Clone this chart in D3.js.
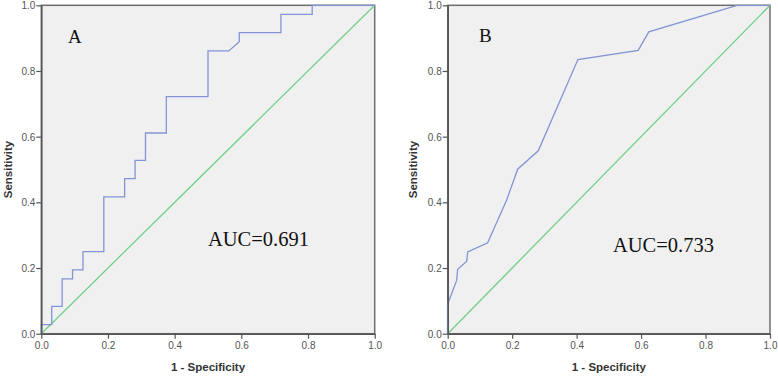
<!DOCTYPE html>
<html><head><meta charset="utf-8">
<script src="https://cdn.jsdelivr.net/npm/d3@7"></script>
<style>body{margin:0;background:#fff}svg{display:block}</style>
</head><body>
<svg id="c" width="778" height="377"></svg>
<script>
// ROC panel A (stepped) : [1 - specificity, sensitivity]
const rocA_fpr = [0, 0, 0.03125, 0.03125, 0.0625, 0.0625, 0.09375, 0.09375, 0.125, 0.125, 0.1875, 0.1875, 0.25, 0.25, 0.28125, 0.28125, 0.3125, 0.3125, 0.375, 0.375, 0.5, 0.5, 0.5625, 0.59375, 0.59375, 0.71875, 0.71875, 0.8125, 0.8125, 1.0];
const rocA_tpr = [0, 0.0278, 0.0278, 0.0833, 0.0833, 0.1667, 0.1667, 0.1944, 0.1944, 0.25, 0.25, 0.4167, 0.4167, 0.4722, 0.4722, 0.5278, 0.5278, 0.6111, 0.6111, 0.7222, 0.7222, 0.8611, 0.8611, 0.8889, 0.9167, 0.9167, 0.9722, 0.9722, 1.0, 1.0];
// ROC panel B
const rocB_fpr = [0, 0, 0.028, 0.031, 0.059, 0.062, 0.124, 0.183, 0.217, 0.281, 0.404, 0.591, 0.624, 0.898, 1.0];
const rocB_tpr = [0, 0.09, 0.163, 0.196, 0.221, 0.249, 0.277, 0.407, 0.501, 0.557, 0.835, 0.863, 0.919, 1.0, 1.0];
const panelLabels = ["A", "B"];
const aucLabels = ["AUC=0.691", "AUC=0.733"];
const ticks = [0, 0.2, 0.4, 0.6, 0.8, 1.0];
const xTitle = "1 - Specificity";
const yTitle = "Sensitivity";

const svg = d3.select("#c");
const panels = [
  {fpr: rocA_fpr, tpr: rocA_tpr, label: panelLabels[0], auc: aucLabels[0],
   x0: 41.3, x1: 374.7, labelPos: [68, 43], aucPos: [208, 246], yTitleX: 12},
  {fpr: rocB_fpr, tpr: rocB_tpr, label: panelLabels[1], auc: aucLabels[1],
   x0: 447.7, x1: 770, labelPos: [479, 42], aucPos: [613, 252], yTitleX: 417}
];
const yTop = 5.3, yBot = 333.7;

panels.forEach(p => {
  const x = d3.scaleLinear().domain([0, 1]).range([p.x0, p.x1]);
  const y = d3.scaleLinear().domain([0, 1]).range([yBot, yTop]);
  const g = svg.append("g");
  g.append("rect").attr("x", p.x0).attr("y", yTop).attr("width", p.x1 - p.x0).attr("height", yBot - yTop)
    .attr("fill", "#f0f0f0").attr("stroke", "#6e6e6e").attr("stroke-width", 1.5);

  // diagonal reference
  g.append("path").datum([[0, 0], [1, 1]])
    .attr("d", d3.line().x(d => x(d[0])).y(d => y(d[1])))
    .attr("fill", "none").attr("stroke", "#72cf88").attr("stroke-width", 1.3);
  // ROC curve
  const pts = p.fpr.map((f, i) => [f, p.tpr[i]]);
  g.append("path").datum(pts)
    .attr("d", d3.line().x(d => x(d[0])).y(d => y(d[1])))
    .attr("fill", "none").attr("stroke", "#8294d6").attr("stroke-width", 1.3);

  const fmt = d3.format(".1f");
  const xa = g.append("g").attr("transform", `translate(0,${yBot})`)
    .call(d3.axisBottom(x).tickValues(ticks).tickFormat(fmt).tickSize(5).tickSizeOuter(0));
  const ya = g.append("g").attr("transform", `translate(${p.x0},0)`)
    .call(d3.axisLeft(y).tickValues(ticks).tickFormat(fmt).tickSize(5).tickSizeOuter(0));
  [xa, ya].forEach(a => {
    a.select(".domain").attr("stroke", "#555").attr("stroke-width", 1.5);
    a.selectAll(".tick line").attr("stroke", "#555").attr("stroke-width", 1.2);
    a.selectAll("text").attr("fill", "#555").style("font-family", "Liberation Sans, Arial, sans-serif").style("font-size", "10px");
  });
  xa.selectAll("text").attr("y", 8);
  ya.selectAll("text").attr("x", -6).attr("dy", "0.35em");

  g.append("text").attr("x", (p.x0 + p.x1) / 2).attr("y", 371).attr("text-anchor", "middle")
    .style("font-family", "Liberation Sans, Arial, sans-serif").style("font-size", "11.5px").style("font-weight", "bold")
    .attr("fill", "#333").text(xTitle);
  g.append("text").attr("transform", `translate(${p.yTitleX},${(yTop + yBot) / 2}) rotate(-90)`).attr("text-anchor", "middle")
    .style("font-family", "Liberation Sans, Arial, sans-serif").style("font-size", "11.5px").style("font-weight", "bold")
    .attr("fill", "#333").text(yTitle);

  g.append("text").attr("x", p.labelPos[0]).attr("y", p.labelPos[1])
    .style("font-family", "Liberation Serif, Times New Roman, serif").style("font-size", "19px").attr("fill", "#111").text(p.label);
  g.append("text").attr("x", p.aucPos[0]).attr("y", p.aucPos[1])
    .style("font-family", "Liberation Serif, Times New Roman, serif").style("font-size", "20.5px").attr("fill", "#111").text(p.auc);
});
</script>
</body></html>
